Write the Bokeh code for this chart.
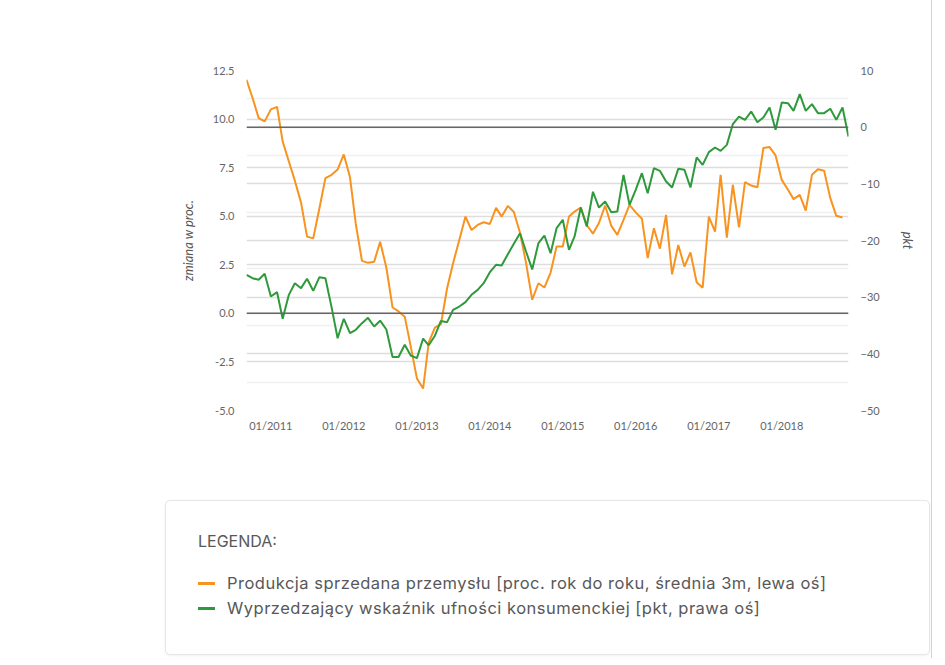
import pandas as pd
from bokeh.plotting import figure
from bokeh.models import (Range1d, LinearAxis, Grid, Span, FixedTicker, PrintfTickFormatter,
                          DatetimeTickFormatter, MonthsTicker, Div)
from bokeh.layouts import column
from bokeh.embed import file_html
from bokeh.resources import INLINE

# ---------------- data (monthly, starting 09/2010) ----------------
start_month = "2010-09-01"

# Produkcja sprzedana przemysłu [proc. r/r, średnia 3m] – lewa oś (09/2010 – 11/2018)
production = [
    12.02, 11.1, 10.05, 9.88,
    10.5, 10.63, 8.85, 7.82, 6.83, 5.7, 3.95, 3.86, 5.41, 6.96, 7.13, 7.4,
    8.18, 7.0, 4.6, 2.7, 2.6, 2.66, 3.69, 2.35, 0.3, 0.1, -0.17, -1.7,
    -3.35, -3.87, -1.5, -0.73, -0.56, 1.29, 2.58, 3.78, 4.98, 4.29, 4.55, 4.69,
    4.6, 5.43, 4.98, 5.53, 5.22, 4.15, 2.6, 0.7, 1.55, 1.33, 2.1, 3.44,
    3.44, 4.98, 5.24, 5.45, 4.55, 4.1, 4.65, 5.55, 4.5, 4.04, 4.81, 5.58,
    5.2, 4.87, 2.85, 4.38, 3.33, 5.07, 2.01, 3.52, 2.41, 3.14, 1.6, 1.32,
    4.98, 4.21, 7.13, 3.9, 6.62, 4.43, 6.75, 6.58, 6.49, 8.51, 8.56, 8.13,
    6.87, 6.36, 5.88, 6.1, 5.29, 7.13, 7.42, 7.34, 5.93, 5.02, 4.93,
]

# Wyprzedzający wskaźnik ufności konsumenckiej [pkt] – prawa oś (09/2010 – 12/2018)
consumer_conf = [
    -26.06, -26.65, -26.94, -25.88,
    -29.88, -29.12, -33.82, -29.59, -27.53, -28.41, -26.76, -28.88, -26.47, -26.65, -31.8, -37.24,
    -33.82, -36.35, -35.76, -34.59, -33.65, -35.18, -34.15, -35.7, -40.55, -40.55, -38.41, -40.3,
    -40.76, -37.3, -38.5, -36.8, -34.2, -34.41, -32.24, -31.65, -30.88, -29.59, -28.71, -27.53,
    -25.6, -24.29, -24.41, -22.41, -20.59, -18.71, -21.94, -25.1, -20.47, -19.12, -22.24, -17.82,
    -16.35, -21.65, -19.29, -14.18, -17.53, -11.4, -14.18, -13.12, -15.0, -14.88, -8.41, -13.7,
    -11.06, -8.12, -11.65, -7.24, -7.71, -9.59, -10.65, -7.35, -7.53, -10.65, -5.35, -6.65,
    -4.41, -3.59, -4.18, -3.12, 0.53, 1.88, 1.29, 2.76, 0.88, 1.71, 3.47, -0.47,
    4.35, 4.24, 2.88, 5.82, 2.88, 4.06, 2.47, 2.47, 3.24, 1.29, 3.47, -1.65,
]

left_ticks = [-5.0, -2.5, 0.0, 2.5, 5.0, 7.5, 10.0, 12.5]
right_ticks = [-50, -40, -30, -20, -10, 0, 10]
right_minor_ticks = [-45, -35, -25, -15, -5, 5]

label_prod = "Produkcja sprzedana przemysłu [proc. rok do roku, średnia 3m, lewa oś]"
label_conf = "Wyprzedzający wskaźnik ufności konsumenckiej [pkt, prawa oś]"
left_title = "zmiana w proc."
right_title = "pkt"
legend_title = "LEGENDA:"

# ---------------- styling ----------------
ORANGE = "#f8931f"
GREEN = "#2e9a3c"
GRID = "#dddddd"
TICK_FONT = "Lato"
LEG_FONT = "Inter"

dates_all = [d.to_pydatetime() for d in pd.date_range(start_month, periods=len(consumer_conf), freq="MS")]
dates_prod = dates_all[:len(production)]

p = figure(width=931, height=486, x_axis_type="datetime",
           x_range=Range1d(dates_all[0], dates_all[-1]), y_range=Range1d(-5, 12.5),
           output_backend="svg", toolbar_location=None,
           min_border_left=246, min_border_right=83, min_border_top=70, min_border_bottom=76)
p.outline_line_color = None
p.background_fill_color = "white"
p.border_fill_color = "white"

p.extra_y_ranges = {"right": Range1d(-50, 10)}

# axes
p.yaxis.ticker = FixedTicker(ticks=left_ticks)
p.yaxis.formatter = PrintfTickFormatter(format="%.1f")
p.yaxis.axis_label = left_title
p.xaxis.ticker = MonthsTicker(months=[0])
p.xaxis.formatter = DatetimeTickFormatter(months="%m/%Y", years="%m/%Y", days="%m/%Y")

rax = LinearAxis(y_range_name="right", ticker=FixedTicker(ticks=right_ticks), axis_label=right_title)
p.add_layout(rax, "right")

for ax in p.axis:
    ax.axis_line_color = None
    ax.major_tick_line_color = None
    ax.minor_tick_line_color = None
    ax.major_tick_out = 0
    ax.major_tick_in = 0
    ax.minor_tick_out = 0
    ax.minor_tick_in = 0
    ax.major_label_text_color = "#666666"
    ax.major_label_text_font = TICK_FONT
    ax.major_label_text_font_size = "11px"
    ax.axis_label_text_font = TICK_FONT
    ax.axis_label_text_font_style = "italic"
    ax.axis_label_text_color = "#555555"
    ax.axis_label_text_font_size = "13px"

p.yaxis[0].major_label_standoff = 12
p.yaxis[0].axis_label_standoff = 14
rax.major_label_standoff = 12
rax.axis_label_standoff = 17
p.xaxis.major_label_standoff = 8

# grids
p.xgrid.visible = False
p.ygrid.ticker = FixedTicker(ticks=left_ticks)
p.ygrid.grid_line_color = GRID
p.ygrid.grid_line_width = 1.5
rgrid = Grid(dimension=1, y_range_name="right",
             ticker=FixedTicker(ticks=right_ticks, minor_ticks=right_minor_ticks),
             grid_line_color=GRID, grid_line_width=1.5,
             minor_grid_line_color="#f0f0f0", minor_grid_line_width=1.5)
p.add_layout(rgrid)

# zero lines
p.add_layout(Span(location=0, dimension="width", line_color="#666666", line_width=1.5))
p.add_layout(Span(location=0, dimension="width", y_range_name="right", line_color="#666666", line_width=1.5))

# series
p.line(dates_prod, production, line_color=ORANGE, line_width=2)
p.line(dates_all, consumer_conf, line_color=GREEN, line_width=2, y_range_name="right")

# ---------------- legend box ----------------
def item(color, text, top):
    return (f'<div style="position:absolute;left:32px;top:{top}px;height:20px;line-height:20px;'
            f'white-space:nowrap;font-size:16.5px;letter-spacing:0.5px;">'
            f'<span style="display:inline-block;width:17px;height:3px;background:{color};'
            f'vertical-align:middle;margin-right:12px;position:relative;top:-1px;"></span>{text}</div>')

legend_html = (
    f'<div style="position:relative;width:765px;height:155px;margin-left:165px;margin-top:14px;'
    f'box-sizing:border-box;border:1px solid #e6e6e6;border-radius:5px;'
    f'box-shadow:0 1px 3px rgba(0,0,0,0.06);font-family:{LEG_FONT};color:#585858;background:#ffffff;">'
    f'<div style="position:absolute;left:32px;top:30px;height:20px;line-height:20px;font-size:16px;">{legend_title}</div>'
    + item(ORANGE, label_prod, 72)
    + item(GREEN, label_conf, 97)
    + '</div>'
)
legend_div = Div(text=legend_html, width=931, height=172, margin=0)

layout = column(p, legend_div, spacing=0, styles={"border-right": "1px solid #d4d4d4"})
open("out.html", "w").write(file_html(layout, INLINE))
